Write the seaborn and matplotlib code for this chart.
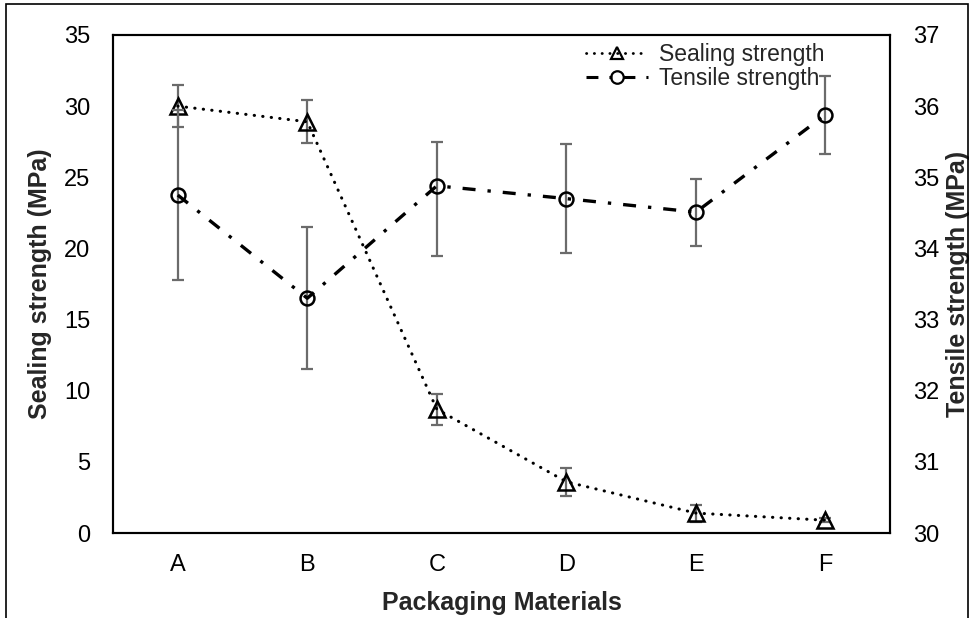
import matplotlib
matplotlib.use("Agg")
import matplotlib.pyplot as plt
import seaborn as sns
import pandas as pd
import numpy as np
from matplotlib.lines import Line2D
from matplotlib.patches import Rectangle

categories = ["A", "B", "C", "D", "E", "F"]
sealing = [30.0, 28.9, 8.7, 3.6, 1.4, 0.9]
sealing_err = [1.5, 1.5, 1.1, 1.0, 0.6, 0.15]
tensile = [34.75, 33.3, 34.88, 34.70, 34.51, 35.88]
tensile_err_low = [1.2, 1.0, 0.98, 0.77, 0.47, 0.55]
tensile_err_high = [1.2, 1.0, 0.62, 0.77, 0.47, 0.55]
left_ticks = [0, 5, 10, 15, 20, 25, 30, 35]
right_ticks = [30, 31, 32, 33, 34, 35, 36, 37]

sns.set_theme(style="white")
plt.rcParams["font.family"] = ["Liberation Sans", "DejaVu Sans"]

df = pd.DataFrame({"cat": categories, "x": np.arange(len(categories)),
                   "sealing": sealing, "tensile": tensile})

fig = plt.figure(figsize=(9.74, 6.18), dpi=100)
ax = fig.add_axes([0.116, 0.1375, 0.798, 0.8059])
ax2 = ax.twinx()

err_color = "#6b6b6b"
tick_fs = 17
label_fs = 18
legend_fs = 16.5

seal_ls = (0, (0.1, 2.7))
tens_ls = (0, (3.9, 3.6, 1.0, 3.6))

# error bars
ax.errorbar(df["x"], df["sealing"], yerr=sealing_err, fmt="none",
            ecolor=err_color, elinewidth=1.6, capsize=4, capthick=1.6, zorder=1)
ax2.errorbar(df["x"], df["tensile"], yerr=[tensile_err_low, tensile_err_high], fmt="none",
             ecolor=err_color, elinewidth=1.6, capsize=4, capthick=1.6, zorder=1)

sns.lineplot(data=df, x="x", y="sealing", ax=ax, color="black", linewidth=2.2,
             linestyle=seal_ls, dash_capstyle="round",
             marker="^", markersize=11, markerfacecolor="none",
             markeredgecolor="black", markeredgewidth=1.8, zorder=3)
sns.lineplot(data=df, x="x", y="tensile", ax=ax2, color="black", linewidth=2.4,
             linestyle=tens_ls, dash_capstyle="butt",
             marker="o", markersize=10, markerfacecolor="none",
             markeredgecolor="black", markeredgewidth=1.8, zorder=3)

ax.set_xlim(-0.5, 5.5)
ax.set_ylim(0, 35)
ax2.set_ylim(30, 37)
ax.set_xticks(range(len(categories)))
ax.set_xticklabels(categories, fontsize=tick_fs)
ax.set_yticks(left_ticks)
ax.set_yticklabels([str(t) for t in left_ticks], fontsize=tick_fs)
ax2.set_yticks(right_ticks)
ax2.set_yticklabels([str(t) for t in right_ticks], fontsize=tick_fs)
ax.tick_params(axis="y", length=0, pad=16.5, colors="black")
ax.tick_params(axis="x", length=0, pad=15, colors="black")
ax2.tick_params(axis="y", length=0, pad=16.5, colors="black")

ax.set_xlabel("Packaging Materials", fontsize=label_fs, fontweight="bold", labelpad=11)
ax.set_ylabel("Sealing strength (MPa)", fontsize=label_fs, fontweight="bold", labelpad=8.5)
ax2.set_ylabel("Tensile strength (MPa)", fontsize=label_fs, fontweight="bold", labelpad=5)

for a in (ax, ax2):
    for s in a.spines.values():
        s.set_color("black")
        s.set_linewidth(1.5)
ax.grid(False)
ax2.grid(False)

handles = [
    Line2D([], [], color="black", linewidth=2.0, linestyle=seal_ls,
           dash_capstyle="round", marker="^", markersize=9, markerfacecolor="none",
           markeredgewidth=1.6),
    Line2D([], [], color="black", linewidth=2.2, linestyle=tens_ls,
           dash_capstyle="butt", marker="o", markersize=9, markerfacecolor="none",
           markeredgewidth=1.6),
]
ax2.legend(handles, ["Sealing strength", "Tensile strength"], loc="upper right",
           bbox_to_anchor=(0.915, 0.984), frameon=False, fontsize=legend_fs,
           handlelength=2.7, handletextpad=0.45, labelspacing=0.05,
           borderpad=0, borderaxespad=0)

fig.patches.append(Rectangle((0.006, -0.05), 0.988, 1.043, transform=fig.transFigure,
                             fill=False, edgecolor="black", linewidth=1.2, zorder=0))

fig.savefig("out.png", dpi=100)
